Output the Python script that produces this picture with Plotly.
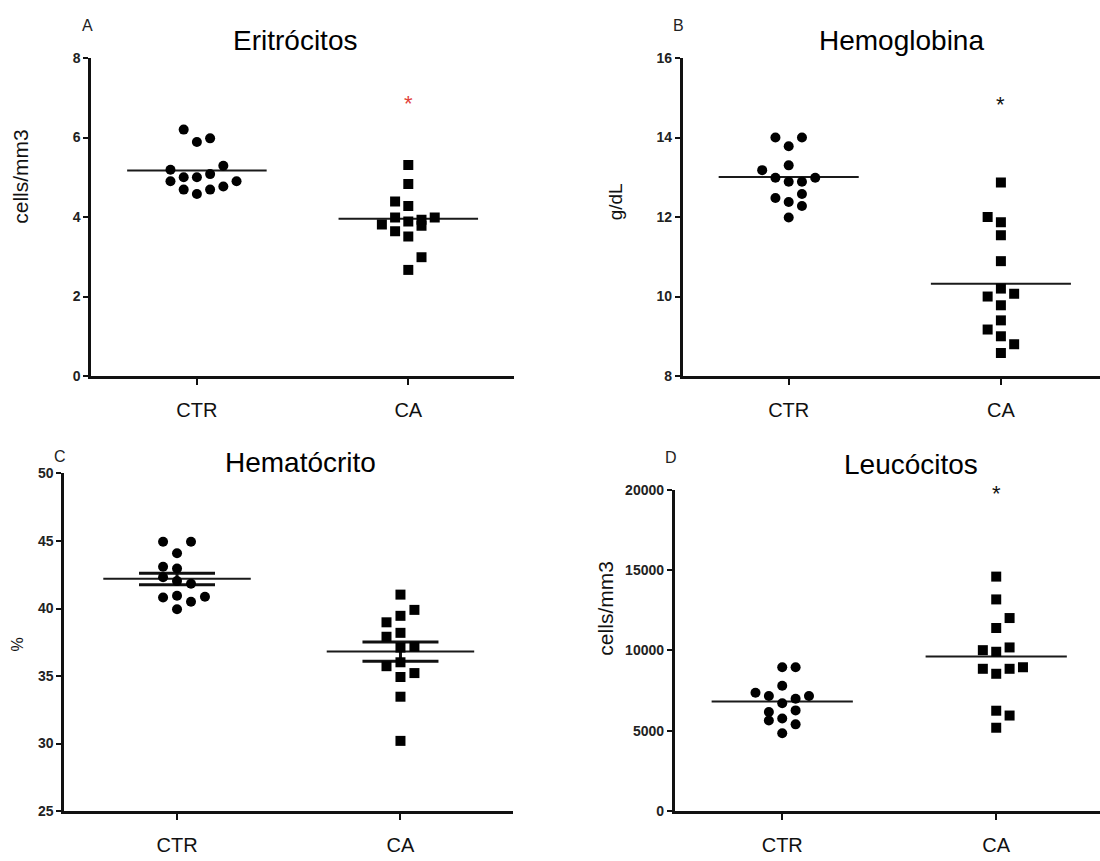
import plotly.graph_objects as go

W, H = 1100, 861

# ---------------- data ----------------
categories = ["CTR", "CA"]

ery_ctr = [6.20, 5.89, 5.98, 5.19, 5.29, 4.90, 5.00, 5.00, 5.08, 4.90, 4.69, 4.58, 4.69, 4.77]
ery_ctr_slot = [-1, 0, 1, -2, 2, -2, -1, 0, 1, 3, -1, 0, 1, 2]
ery_ca = [5.31, 4.83, 4.39, 4.28, 3.99, 3.81, 3.89, 3.93, 3.99, 3.64, 3.51, 3.78, 2.99, 2.67]
ery_ca_slot = [0, 0, -1, 0, -1, -2, 0, 1, 2, -1, 0, 1, 1, 0]
ery_mean = [5.17, 3.96]

hb_ctr = [14.0, 14.0, 13.78, 13.3, 13.18, 12.99, 12.89, 12.89, 12.99, 12.48, 12.58, 12.38, 12.28, 11.99]
hb_ctr_slot = [-1, 1, 0, 0, -2, -1, 0, 1, 2, -1, 1, 0, 1, 0]
hb_ca = [12.87, 12.0, 11.87, 11.54, 10.89, 10.2, 10.0, 10.07, 9.78, 9.4, 9.17, 9.0, 8.8, 8.58]
hb_ca_slot = [0, -1, 0, 0, 0, 0, -1, 1, 0, 0, -1, 0, 1, 0]
hb_mean = [13.01, 10.32]

hct_ctr = [44.94, 44.94, 44.09, 43.10, 42.97, 42.32, 42.03, 41.84, 40.82, 40.94, 40.50, 40.87, 39.95]
hct_ctr_slot = [-1, 1, 0, -1, 0, -1, 0, 1, -1, 0, 1, 2, 0]
hct_ca = [41.03, 39.90, 39.46, 38.98, 38.20, 37.91, 37.11, 37.18, 36.02, 35.73, 35.22, 34.93, 33.47, 30.20]
hct_ca_slot = [0, 1, 0, -1, 0, -1, 0, 1, 0, -1, 1, 0, 0, 0]
hct_mean = [42.20, 36.82]
hct_sem_hi = [42.61, 37.52]
hct_sem_lo = [41.76, 36.10]

wbc_ctr = [8960, 8960, 7800, 7370, 7170, 7170, 6990, 6720, 6170, 6270, 5640, 5770, 5400, 4850]
wbc_ctr_slot = [0, 1, 0, -2, -1, 2, 1, 0, -1, 1, -1, 0, 1, 0]
wbc_ca = [14600, 13180, 12020, 11400, 10020, 9920, 10190, 8860, 8550, 8860, 8960, 6250, 5950, 5190]
wbc_ca_slot = [0, 0, 1, 0, -1, 0, 1, -1, 0, 1, 2, 0, 1, 0]
wbc_mean = [6820, 9630]

titles = ["Eritrócitos", "Hemoglobina", "Hematócrito", "Leucócitos"]
letters = ["A", "B", "C", "D"]
ytitles = ["cells/mm3", "g/dL", "%", "cells/mm3"]
ytick_vals = [[0, 2, 4, 6, 8], [8, 10, 12, 14, 16], [25, 30, 35, 40, 45, 50],
              [0, 5000, 10000, 15000, 20000]]
star_y = [6.85, 14.83, None, 19750]
star_colors = ["#e2413b", "#111111", None, "#111111"]

# ---------------- styling / layout ----------------
SLOT = 0.0625
HALF_MEAN = 0.33
FONT = "Liberation Sans, Arial, sans-serif"

def px(x):
    return x / W

def py(y):
    return 1 - y / H

panels = [
    dict(xd=[px(91.2), px(514)], yd=[py(375), py(51)], xr=[-0.5, 1.5], yr=[0, 8],
         title_xy=(294.7, 33), letter_xy=(87, 18), yt_xy=(21, 172), yt_size=21),
    dict(xd=[px(682.6), 1.0], yd=[py(375), py(51)], xr=[-0.5, 1.467], yr=[8, 16],
         title_xy=(901, 33), letter_xy=(678, 18), yt_xy=(615, 198), yt_size=19),
    dict(xd=[px(64.2), px(513.3)], yd=[py(818.3), py(474.3)], xr=[-0.505, 1.505], yr=[25, 50],
         title_xy=(300, 463), letter_xy=(59.6, 457), yt_xy=(17.5, 648), yt_size=16),
    dict(xd=[px(674.6), 1.0], yd=[py(818.3), py(491)], xr=[-0.503, 1.485], yr=[0, 20000],
         title_xy=(910.7, 465), letter_xy=(671, 458), yt_xy=(606, 612), yt_size=21),
]

groups = [
    (ery_ctr, ery_ctr_slot, ery_ca, ery_ca_slot, ery_mean),
    (hb_ctr, hb_ctr_slot, hb_ca, hb_ca_slot, hb_mean),
    (hct_ctr, hct_ctr_slot, hct_ca, hct_ca_slot, hct_mean),
    (wbc_ctr, wbc_ctr_slot, wbc_ca, wbc_ca_slot, wbc_mean),
]

fig = go.Figure()
layout = dict(width=W, height=H, margin=dict(l=0, r=0, t=0, b=0),
              paper_bgcolor="white", plot_bgcolor="white", showlegend=False,
              font=dict(family=FONT, color="#111111"))
annotations = []

for i, (p, g) in enumerate(zip(panels, groups)):
    n = "" if i == 0 else str(i + 1)
    xa, ya = "x" + n, "y" + n
    ctr, ctr_slot, ca, ca_slot, mean = g

    # mean lines
    for k in range(2):
        fig.add_trace(go.Scatter(x=[k - HALF_MEAN, k + HALF_MEAN], y=[mean[k], mean[k]],
                                 mode="lines", line=dict(color="#1a1a1a", width=2),
                                 xaxis=xa, yaxis=ya, hoverinfo="skip"))
    if i == 2:
        fig.add_trace(go.Scatter(
            x=[0, 1], y=mean, mode="markers", marker=dict(size=1, opacity=0),
            error_y=dict(type="data", symmetric=False,
                         array=[hct_sem_hi[k] - mean[k] for k in range(2)],
                         arrayminus=[mean[k] - hct_sem_lo[k] for k in range(2)],
                         color="#111111", thickness=3, width=38),
            xaxis=xa, yaxis=ya, hoverinfo="skip"))

    fig.add_trace(go.Scatter(x=[0 + s * SLOT for s in ctr_slot], y=ctr, mode="markers",
                             marker=dict(symbol="circle", size=10, color="#000000"),
                             xaxis=xa, yaxis=ya))
    fig.add_trace(go.Scatter(x=[1 + s * SLOT for s in ca_slot], y=ca, mode="markers",
                             marker=dict(symbol="square", size=10, color="#000000"),
                             xaxis=xa, yaxis=ya))

    tv = ytick_vals[i]
    layout["xaxis" + n] = dict(domain=p["xd"], range=p["xr"], anchor=ya,
                               tickvals=[0, 1], ticktext=categories,
                               showline=True, linecolor="#111111", linewidth=2.5,
                               ticks="outside", ticklen=6, tickwidth=2, tickcolor="#111111",
                               showgrid=False, zeroline=False, ticklabelstandoff=8,
                               tickfont=dict(size=20, family=FONT, color="#111111"),
                               fixedrange=True)
    layout["yaxis" + n] = dict(domain=p["yd"], range=p["yr"], anchor=xa,
                               tickvals=tv, ticktext=["<b>%d</b>" % v for v in tv],
                               showline=True, linecolor="#111111", linewidth=2.5,
                               ticks="outside", ticklen=5, tickwidth=2, tickcolor="#111111",
                               showgrid=False, zeroline=False,
                               tickfont=dict(size=14, family="Liberation Sans, Arial", color="#222222"),
                               fixedrange=True)

    tx, ty = p["title_xy"]
    annotations.append(dict(text=titles[i], x=px(tx), y=py(ty), xref="paper", yref="paper",
                            showarrow=False, xanchor="center", yanchor="middle",
                            font=dict(size=28, family=FONT, color="#000000")))
    lx, ly = p["letter_xy"]
    annotations.append(dict(text=letters[i], x=px(lx), y=py(ly), xref="paper", yref="paper",
                            showarrow=False, xanchor="center", yanchor="middle",
                            font=dict(size=16, family=FONT, color="#222222")))
    yx, yy = p["yt_xy"]
    annotations.append(dict(text=ytitles[i], x=px(yx), y=py(yy), xref="paper", yref="paper",
                            showarrow=False, xanchor="center", yanchor="middle", textangle=-90,
                            font=dict(size=p["yt_size"], family=FONT, color="#111111")))
    if star_y[i] is not None:
        annotations.append(dict(text="*", x=1, y=star_y[i], xref=xa, yref=ya,
                                showarrow=False, xanchor="center", yanchor="middle",
                                font=dict(size=22, family=FONT, color=star_colors[i])))

layout["annotations"] = annotations
fig.update_layout(**layout)
fig.write_html("out.html", config={"displayModeBar": False},
               post_script="document.body.style.margin='0';document.body.style.overflow='hidden';")
